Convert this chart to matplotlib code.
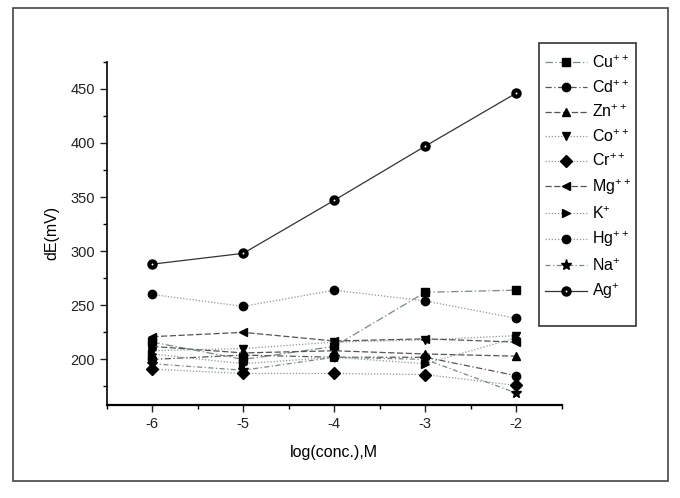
import numpy as np
import matplotlib
matplotlib.use('Agg')
import matplotlib.pyplot as plt
from matplotlib.patches import Rectangle

plt.rcParams['font.family'] = ['Liberation Sans', 'DejaVu Sans']
plt.rcParams['mathtext.default'] = 'regular'

# log concentration, M
conc = [-6, -5, -4, -3, -2]

# potential change, mV
cu = [216, 200, 212, 262, 264]
cd = [200, 204, 202, 202, 185]
zn = [212, 206, 208, 205, 203]
co = [208, 210, 216, 218, 222]
cr = [191, 187, 187, 186, 176]
mg = [221, 225, 217, 219, 216]
k = [205, 196, 202, 196, 220]
hg = [260, 249, 264, 254, 238]
na = [196, 190, 202, 200, 169]
ag = [288, 298, 347, 397, 446]

labels = ['Cu$^{++}$', 'Cd$^{++}$', 'Zn$^{++}$', 'Co$^{++}$', 'Cr$^{++}$',
          'Mg$^{++}$', 'K$^{+}$', 'Hg$^{++}$', 'Na$^{+}$', 'Ag$^{+}$']
series = [cu, cd, zn, co, cr, mg, k, hg, na, ag]
markers = ['s', 'o', '^', 'v', 'D', '<', '>', 'o', '*', 'o']
styles = [(0, (6, 2, 1, 2)), (0, (5, 2, 1, 2)), (0, (5, 2)), (0, (1, 1.5)),
          (0, (1, 1.5)), (0, (5, 2)), (0, (1, 1.5)), (0, (1, 1.5)),
          (0, (4, 2, 1, 2)), '-']
colors = ['#7a8a80', '#555555', '#555555', '#8a9a90', '#8a9a90',
          '#555555', '#8a9a90', '#8a9a90', '#7a8a80', '#333333']

fig = plt.figure(figsize=(6.8, 4.98), dpi=100)
ax = fig.add_axes([0.157, 0.187, 0.669, 0.689])

handles = []
for y, lab, m, ls, c in zip(series, labels, markers, styles, colors):
    ms = 8 if m == '*' else 6
    if lab.startswith('Ag'):
        h, = ax.plot(conc, y, ls=ls, color=c, lw=0.9, marker=m, ms=4.5,
                     mfc='white', mec='black', mew=3, label=lab)
    else:
        h, = ax.plot(conc, y, ls=ls, color=c, lw=0.9, marker=m, ms=ms,
                     mfc='black', mec='black', label=lab)
    handles.append(h)

ax.set_xlim(-6.5, -1.5)
ax.set_ylim(158, 475)
ax.set_xticks(conc)
ax.set_xticklabels(['-6', '-5', '-4', '-3', '-2'])
ax.set_yticks([200, 250, 300, 350, 400, 450])
ax.set_xticks(np.arange(-6.5, -1.4, 0.5), minor=True)
ax.set_yticks(np.arange(175, 476, 25), minor=True)
ax.spines['top'].set_visible(False)
ax.spines['right'].set_visible(False)
ax.spines['left'].set_linewidth(1.2)
ax.spines['bottom'].set_linewidth(1.6)
ax.tick_params(direction='out', length=5, width=1, labelsize=10.5, colors='#222222')
ax.tick_params(which='minor', direction='out', length=3, width=1)
ax.set_xlabel('log(conc.),M', fontsize=11.5, labelpad=10)
ax.set_ylabel('dE(mV)', fontsize=11.5, labelpad=8)

# legend with its own box
fig.patches.append(Rectangle((539/680, 1-326/498), 97/680, 283/498,
                             transform=fig.transFigure, fill=False,
                             ec='#333333', lw=1.2))
fig.legend(handles=handles, loc='upper left',
           bbox_to_anchor=(539/680, 1-48/498), frameon=False,
           fontsize=11.5, handlelength=2.6, labelspacing=0.5,
           handletextpad=0.3, borderaxespad=0)

# outer frame
fig.patches.append(Rectangle((13/680, 1-481/498), 655/680, 473/498,
                             transform=fig.transFigure, fill=False,
                             ec='#444444', lw=1.2))

plt.savefig('out.png', dpi=100)
